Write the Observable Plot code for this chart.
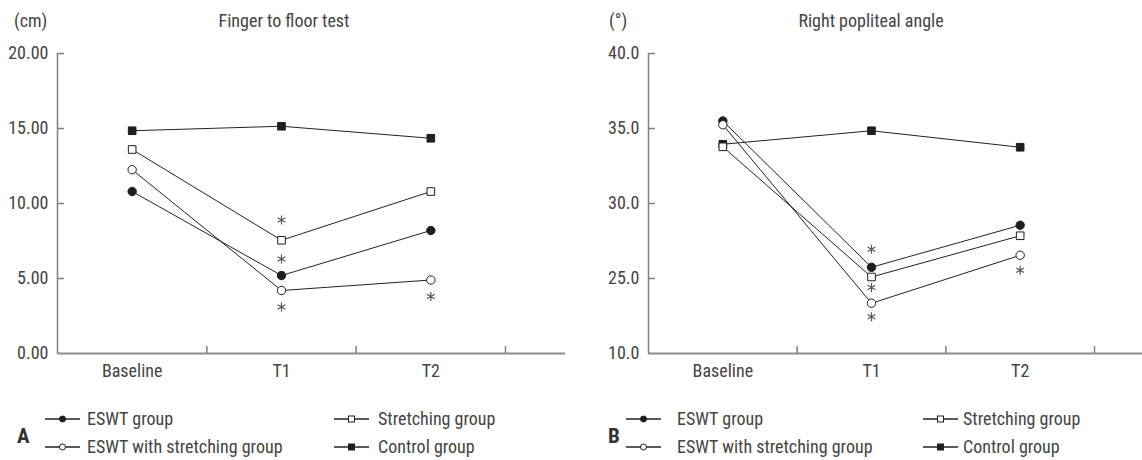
<!DOCTYPE html>
<html><head><meta charset="utf-8">
<script src="https://cdn.jsdelivr.net/npm/d3@7"></script>
<script src="https://cdn.jsdelivr.net/npm/@observablehq/plot@0.6"></script>
<style>
body{margin:0;background:#fff;}
#root{position:relative;width:1142px;height:460px;overflow:hidden;font-family:"Liberation Sans Narrow","Roboto Condensed","DejaVu Sans Condensed","Arial Narrow",sans-serif;color:#444;}
.abs{position:absolute;white-space:nowrap;font-size:18px;line-height:1;transform:translateY(-50%);}
.ctr{transform:translate(-50%,-50%);}
.panel{position:absolute;top:40px;width:571px;}
.letter{font-weight:bold;font-size:21px;color:#333;}
.sym{position:absolute;transform:translateY(-50%);}
</style></head>
<body><div id="root"></div>
<script>
const categories = ["Baseline", "T1", "T2"];
const groups = ["ESWT group", "ESWT with stretching group", "Stretching group", "Control group"];

// Finger to floor test (cm)
const fingerESWT = [10.8, 5.2, 8.2];
const fingerESWTStretching = [12.25, 4.2, 4.9];
const fingerStretching = [13.6, 7.55, 10.8];
const fingerControl = [14.85, 15.15, 14.35];
const fingerTicks = [0, 5, 10, 15, 20];
const fingerTickLabels = ["0.00", "5.00", "10.00", "15.00", "20.00"];
const fingerStarCats = ["T1", "T1", "T1", "T2"];
const fingerStarValues = [8.9, 6.3, 3.1, 3.8];

// Right popliteal angle (°) — broken axis: bottom tick labelled 10.0
const poplESWT = [35.5, 25.75, 28.55];
const poplESWTStretching = [35.25, 23.35, 26.55];
const poplStretching = [33.78, 25.1, 27.85];
const poplControl = [33.95, 34.85, 33.75];
const poplTicks = [20, 25, 30, 35, 40];
const poplTickLabels = ["10.0", "25.0", "30.0", "35.0", "40.0"];
const poplStarCats = ["T1", "T1", "T1", "T2"];
const poplStarValues = [26.95, 24.4, 22.45, 25.55];

const drawOrder = ["Control group", "ESWT group", "ESWT with stretching group", "Stretching group"];
const styleOf = {
  "ESWT group": {symbol: "circle", fill: "#1e1e1e", r: 4.2},
  "ESWT with stretching group": {symbol: "circle", fill: "#fff", r: 4.2},
  "Stretching group": {symbol: "square", fill: "#fff", r: 4.3},
  "Control group": {symbol: "square", fill: "#1e1e1e", r: 4.3}
};
const FONT = '"Liberation Sans Narrow","Roboto Condensed","DejaVu Sans Condensed","Arial Narrow",sans-serif';

function panel(series, ticks, tickLabels, starCats, starValues, ml, mr, axisExt) {
  const domain = [ticks[0], ticks[ticks.length - 1]];
  const rows = [];
  drawOrder.forEach(g => series[g].forEach((v, i) => rows.push({group: g, i, value: v})));
  const bounds = categories.map((c, i) => i + 0.5);
  const stars = starCats.map((c, k) => ({i: categories.indexOf(c), value: starValues[k]}));
  const axisColor = "#808080";
  return Plot.plot({
    width: 571, height: 355, marginTop: 13, marginBottom: 42, marginLeft: ml, marginRight: mr,
    style: {fontFamily: FONT, fontSize: "18px", color: "#444", background: "transparent", overflow: "visible"},
    x: {type: "linear", domain: [-0.5, categories.length - 0.5], axis: null},
    y: {domain, axis: null},
    marks: [
      Plot.ruleY([domain[0]], {stroke: "#8c8c8c", strokeWidth: 2, insetRight: -axisExt}),
      Plot.ruleX([-0.5], {y1: domain[0], y2: domain[1], stroke: axisColor, strokeWidth: 1.5}),
      Plot.ruleY(ticks.slice(1), {x1: -0.5, x2: -0.5, insetRight: -7, stroke: axisColor, strokeWidth: 1.5}),
      Plot.ruleX(bounds, {y1: domain[0], y2: domain[0], insetTop: -7, stroke: axisColor, strokeWidth: 1.5}),
      Plot.axisY({ticks, tickFormat: d => tickLabels[ticks.indexOf(d)], tickSize: 0, tickPadding: 9, label: null, fontSize: 18, fill: "#444"}),
      Plot.axisX({ticks: d3.range(categories.length), tickFormat: i => categories[i], tickSize: 0, tickPadding: 11, label: null, fontSize: 18, fill: "#444"}),
      Plot.line(rows, {x: "i", y: "value", z: "group", stroke: "#222", strokeWidth: 1}),
      ...drawOrder.map(g => Plot.dot(rows.filter(d => d.group === g), {
        x: "i", y: "value", symbol: styleOf[g].symbol, r: styleOf[g].r,
        fill: styleOf[g].fill, stroke: "#1e1e1e", strokeWidth: 1
      })),
      Plot.dot(stars, {x: "i", y: "value", symbol: "asterisk", r: 4.2, stroke: "#555", strokeWidth: 1.2})
    ]
  });
}

const root = document.getElementById("root");
function addText(txt, x, y, cls, extra) {
  const d = document.createElement("div");
  d.className = "abs " + (cls || "");
  d.textContent = txt;
  d.style.left = x + "px"; d.style.top = y + "px";
  if (extra) Object.assign(d.style, extra);
  root.appendChild(d);
}
function addPanel(left, svg) {
  const p = document.createElement("div");
  p.className = "panel"; p.style.left = left + "px";
  p.appendChild(svg); root.appendChild(p);
}
function legendSymbol(g, x, y) {
  const s = styleOf[g];
  const w = 35, h = 10;
  const ns = "http://www.w3.org/2000/svg";
  const svg = document.createElementNS(ns, "svg");
  svg.setAttribute("width", w); svg.setAttribute("height", h);
  svg.setAttribute("class", "sym");
  svg.style.left = x + "px"; svg.style.top = y + "px";
  const line = document.createElementNS(ns, "line");
  line.setAttribute("x1", 0); line.setAttribute("x2", w); line.setAttribute("y1", h / 2); line.setAttribute("y2", h / 2);
  line.setAttribute("stroke", "#222"); line.setAttribute("stroke-width", 1.3);
  svg.appendChild(line);
  let m;
  if (s.symbol === "circle") {
    m = document.createElementNS(ns, "circle");
    m.setAttribute("cx", w / 2); m.setAttribute("cy", h / 2); m.setAttribute("r", 3);
  } else {
    m = document.createElementNS(ns, "rect");
    m.setAttribute("x", w / 2 - 3); m.setAttribute("y", h / 2 - 3); m.setAttribute("width", 6); m.setAttribute("height", 6);
  }
  m.setAttribute("fill", s.fill); m.setAttribute("stroke", "#1e1e1e"); m.setAttribute("stroke-width", 1);
  svg.appendChild(m);
  root.appendChild(svg);
}
function addLegend(letter, letterX, col1Line, col1Text, col2Line, col2Text) {
  addText(letter, letterX, 436, "letter");
  const pos = [[col1Line, col1Text, 419], [col1Line, col1Text, 447], [col2Line, col2Text, 419], [col2Line, col2Text, 447]];
  groups.forEach((g, k) => {
    const [lx, tx, y] = pos[k];
    legendSymbol(g, lx, y);
    addText(g, tx, y);
  });
}

// Panel A
addText("(cm)", 14, 21);
addText("Finger to floor test", 284, 21, "ctr");
addPanel(0, panel({
  "ESWT group": fingerESWT, "ESWT with stretching group": fingerESWTStretching,
  "Stretching group": fingerStretching, "Control group": fingerControl
}, fingerTicks, fingerTickLabels, fingerStarCats, fingerStarValues, 57, 66, 60));
addLegend("A", 17, 45, 87, 334, 378);

// Panel B
addText("(°)", 609, 21);
addText("Right popliteal angle", 871, 21, "ctr");
addPanel(571, panel({
  "ESWT group": poplESWT, "ESWT with stretching group": poplESWTStretching,
  "Stretching group": poplStretching, "Control group": poplControl
}, poplTicks, poplTickLabels, poplStarCats, poplStarValues, 77, 48, 48));
addLegend("B", 608, 626, 677, 923, 963);
</script>
</body></html>
